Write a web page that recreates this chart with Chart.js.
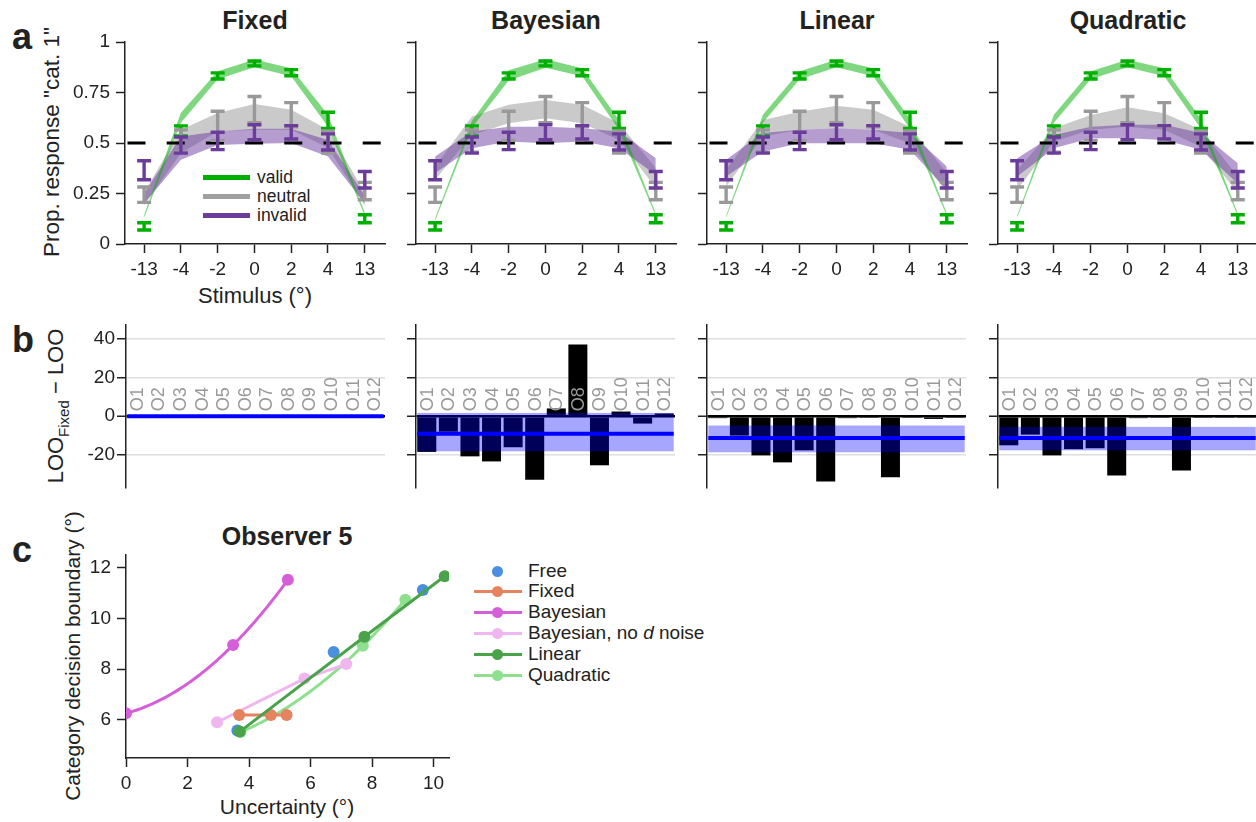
<!DOCTYPE html>
<html><head><meta charset="utf-8">
<script src="https://cdn.jsdelivr.net/npm/chart.js@4.4.1/dist/chart.umd.min.js"></script>
<style>
html,body{margin:0;padding:0;background:#fff}
body{width:1256px;height:822px;position:relative;overflow:hidden;font-family:"Liberation Sans",Arial,Helvetica,sans-serif;color:#222}
canvas{position:absolute}
.t{position:absolute;white-space:nowrap;line-height:1}
.c{transform:translate(-50%,-50%)}
.r{transform:translate(-50%,-50%) rotate(-90deg)}
.b{font-weight:bold}
.ln{position:absolute}
.dot{position:absolute;border-radius:50%}
</style></head><body>
<div class="t b" style="left:12px;top:19px;font-size:36px">a</div>
<div class="t b" style="left:12px;top:322px;font-size:36px">b</div>
<div class="t b" style="left:12px;top:532px;font-size:36px">c</div>

<div class="t b c" style="left:255px;top:20px;font-size:25px">Fixed</div>
<div class="t b c" style="left:546px;top:20px;font-size:25px">Bayesian</div>
<div class="t b c" style="left:837px;top:20px;font-size:25px">Linear</div>
<div class="t b c" style="left:1128px;top:20px;font-size:25px">Quadratic</div>

<div class="t r" style="left:52px;top:142px;font-size:22.5px">Prop. response "cat. 1"</div>
<div class="t c" style="left:255px;top:296px;font-size:22px">Stimulus (°)</div>

<div class="t r" style="left:58px;top:406px;font-size:22px">LOO<sub style="font-size:15px">Fixed</sub> − LOO</div>

<div class="t b c" style="left:287px;top:536px;font-size:25px">Observer 5</div>
<div class="t r" style="left:72px;top:656px;font-size:21px">Category decision boundary (°)</div>
<div class="t c" style="left:287px;top:806px;font-size:21px">Uncertainty (°)</div>

<!-- panel a legend -->
<div class="ln" style="left:203px;top:175px;width:47px;height:4.5px;background:#00b000"></div>
<div class="ln" style="left:203px;top:194px;width:47px;height:4.5px;background:#a0a0a0"></div>
<div class="ln" style="left:203px;top:213px;width:47px;height:4.5px;background:#6a3d9a"></div>
<div class="t" style="left:257px;top:169px;font-size:17.5px">valid</div>
<div class="t" style="left:257px;top:188px;font-size:17.5px">neutral</div>
<div class="t" style="left:257px;top:207px;font-size:17.5px">invalid</div>

<div id="legc"></div>

<script>
// ---------- DATA ----------
const stimLabels = ['-13','-4','-2','0','2','4','13'];
const chanceLevel = 0.5;
const validMean   = [0.087,0.56,0.832,0.894,0.848,0.612,0.125];
const validErr    = [0.018,0.025,0.015,0.012,0.015,0.04,0.02];
const neutralMean = [0.244,0.51,0.585,0.665,0.64,0.505,0.262];
const neutralErr  = [0.038,0.055,0.072,0.065,0.06,0.055,0.043];
const invalidMean = [0.365,0.49,0.51,0.553,0.553,0.505,0.318];
const invalidErr  = [0.047,0.04,0.043,0.037,0.033,0.04,0.041];

const fixedValidLo   = [0.13,0.60,0.815,0.875,0.83,0.58,0.14];
const fixedValidHi   = [0.145,0.65,0.855,0.913,0.87,0.64,0.155];
const fixedNeutralLo = [0.19,0.45,0.557,0.565,0.565,0.476,0.19];
const fixedNeutralHi = [0.255,0.565,0.648,0.693,0.664,0.565,0.255];
const fixedInvalidLo = [0.20,0.417,0.49,0.496,0.5,0.433,0.20];
const fixedInvalidHi = [0.25,0.532,0.557,0.57,0.57,0.515,0.24];

const bayesValidLo   = [0.115,0.575,0.81,0.873,0.83,0.565,0.14];
const bayesValidHi   = [0.128,0.61,0.86,0.915,0.87,0.614,0.152];
const bayesNeutralLo = [0.318,0.54,0.598,0.623,0.598,0.515,0.277];
const bayesNeutralHi = [0.384,0.631,0.689,0.713,0.689,0.598,0.376];
const bayesInvalidLo = [0.351,0.474,0.507,0.499,0.507,0.474,0.343];
const bayesInvalidHi = [0.433,0.557,0.581,0.581,0.573,0.557,0.425];

const linValidLo   = [0.13,0.60,0.815,0.875,0.83,0.57,0.14];
const linValidHi   = [0.14,0.64,0.855,0.912,0.87,0.62,0.152];
const linNeutralLo = [0.285,0.532,0.565,0.573,0.565,0.499,0.252];
const linNeutralHi = [0.367,0.614,0.655,0.684,0.664,0.581,0.351];
const linInvalidLo = [0.334,0.458,0.499,0.499,0.499,0.466,0.268];
const linInvalidHi = [0.417,0.549,0.565,0.573,0.565,0.549,0.384];

const quadValidLo   = [0.13,0.60,0.815,0.875,0.83,0.57,0.14];
const quadValidHi   = [0.14,0.64,0.855,0.912,0.87,0.62,0.152];
const quadNeutralLo = [0.269,0.507,0.565,0.581,0.565,0.482,0.252];
const quadNeutralHi = [0.367,0.573,0.639,0.677,0.647,0.565,0.334];
const quadInvalidLo = [0.334,0.474,0.524,0.524,0.515,0.466,0.3];
const quadInvalidHi = [0.425,0.54,0.581,0.59,0.59,0.549,0.4];

const observerLabels = ['O1','O2','O3','O4','O5','O6','O7','O8','O9','O10','O11','O12'];
const fixedDiff = [0,0,0,0,0,0,0,0,0,0,0,0];
const bayesDiff = [-18.4,-8,-20.7,-23.3,-16,-32.8,4,37,-25.3,2.4,-3.8,1.4];
const linDiff   = [-1,-10,-20.2,-23.8,-17.6,-33.6,-1,-0.4,-31.5,-0.4,-1.4,-0.4];
const quadDiff  = [-15,-9.5,-20.2,-17,-16.5,-30.5,-1,-0.4,-28,-0.4,-0.4,-0.4];
// mean, lower, upper of the summary band
const fixedSummary = [0,0,0];
const bayesSummary = [-9,-18.1,1.7];
const linSummary   = [-11.2,-18.6,-4.8];
const quadSummary  = [-11.2,-17.6,-5.5];

const freeX = [3.62,6.75,9.65],  freeY = [5.58,8.68,11.12];
const fixX  = [3.68,4.71,5.22],  fixY  = [6.19,6.19,6.19];
const bayX  = [0,3.48,5.26],     bayY  = [6.26,8.95,11.52];
const bndX  = [2.96,5.8,7.16],   bndY  = [5.91,7.63,8.2];
const linX  = [3.7,7.75,10.36],  linY  = [5.54,9.28,11.66];
const quadX = [3.72,7.7,9.08],   quadY = [5.52,8.92,10.74];

// ---------- SETUP ----------
Chart.defaults.font.family = "'Liberation Sans', Arial, Helvetica, sans-serif";
Chart.defaults.color = '#222';
Chart.defaults.animation = false;
Chart.defaults.responsive = false;
Chart.defaults.plugins.legend.display = false;
Chart.defaults.plugins.tooltip.enabled = false;
const AX = '#222';
const PT = 22; // top padding of every canvas (room for tick labels)

function makeCanvas(plotL, plotT, plotW, plotH, axL, axB, padR, padT){
  const c = document.createElement('canvas');
  c.width = axL + plotW + padR; c.height = padT + plotH + axB;
  c.style.left = (plotL - axL) + 'px'; c.style.top = (plotT - padT) + 'px';
  c.style.width = c.width + 'px'; c.style.height = c.height + 'px';
  document.body.appendChild(c);
  return c;
}
function axisStyle(extra){
  return Object.assign({
    border:{display:true,color:AX,width:1.5},
    grid:{display:true,drawOnChartArea:false,drawTicks:true,tickLength:9,tickColor:AX,tickWidth:1.5,color:AX}
  }, extra);
}
const xy = (arr) => arr.map((v,i)=>({x:i,y:v}));
const pts = (xs,ys) => xs.map((v,i)=>({x:v,y:ys[i]}));

// ---------- PANEL A ----------
const bandSets = [
  [fixedValidLo,fixedValidHi,fixedNeutralLo,fixedNeutralHi,fixedInvalidLo,fixedInvalidHi],
  [bayesValidLo,bayesValidHi,bayesNeutralLo,bayesNeutralHi,bayesInvalidLo,bayesInvalidHi],
  [linValidLo,linValidHi,linNeutralLo,linNeutralHi,linInvalidLo,linInvalidHi],
  [quadValidLo,quadValidHi,quadNeutralLo,quadNeutralHi,quadInvalidLo,quadInvalidHi]
];
const errPlugin = {
  id:'errbars',
  afterDatasetsDraw(chart){
    const {ctx, scales:{x,y}, chartArea} = chart;
    ctx.save();
    const yc = y.getPixelForValue(chanceLevel);
    ctx.beginPath(); ctx.setLineDash([18,21.2]); ctx.lineWidth = 3; ctx.strokeStyle = '#000';
    ctx.moveTo(chartArea.left + 2.5, yc); ctx.lineTo(chartArea.right, yc); ctx.stroke();
    ctx.setLineDash([]);
    [[validMean,validErr,'#00b000'],[neutralMean,neutralErr,'#999999'],[invalidMean,invalidErr,'#6a3d9a']].forEach(([m,e,col])=>{
      ctx.strokeStyle = col; ctx.lineWidth = 3.4; ctx.lineCap = 'butt';
      m.forEach((v,i)=>{
        const px = x.getPixelForValue(i), y1 = y.getPixelForValue(v+e[i]), y2 = y.getPixelForValue(v-e[i]);
        ctx.beginPath();
        ctx.moveTo(px,y1); ctx.lineTo(px,y2);
        ctx.moveTo(px-7,y1); ctx.lineTo(px+7,y1);
        ctx.moveTo(px-7,y2); ctx.lineTo(px+7,y2);
        ctx.stroke();
      });
    });
    ctx.restore();
  }
};
function panelA(mi, plotL){
  const c = makeCanvas(plotL, 42, 260, 202, 70, 45, 12, PT);
  const b = bandSets[mi];
  const ds = [];
  [[2,3,'rgba(150,150,150,0.5)'],[4,2,'rgba(110,60,160,0.5)'],[0,1,'rgba(0,178,0,0.5)']].forEach(([k,o,col])=>{
    ds.push({data:xy(b[k+1]), fill:'+1', backgroundColor:col, borderColor:'rgba(0,0,0,0)', borderWidth:0, pointRadius:0, order:o, tension:0});
    ds.push({data:xy(b[k]), fill:false, borderColor:'rgba(0,0,0,0)', borderWidth:0, pointRadius:0, order:o, tension:0});
  });
  new Chart(c, {
    type:'line',
    data:{datasets:ds},
    options:{
      layout:{padding:{left:0,right:12,top:PT,bottom:0}},
      scales:{
        x: axisStyle({type:'linear', min:-0.52, max:6.55,
          afterBuildTicks:s=>{ s.ticks = stimLabels.map((_,i)=>({value:i})); },
          ticks:{callback:v=>stimLabels[v], font:{size:19}, color:'#222', padding:5, maxRotation:0, autoSkip:false},
          afterFit:s=>{ s.height = 45; }}),
        y: axisStyle({type:'linear', min:0, max:1,
          afterBuildTicks:s=>{ s.ticks = [0,0.25,0.5,0.75,1].map(v=>({value:v})); },
          ticks:{display: mi===0, callback:v=>String(v), font:{size:19}, color:'#222', padding:6},
          afterFit:s=>{ s.width = 70; }})
      }
    },
    plugins:[errPlugin]
  });
}
[125,416,707,998].forEach((L,i)=>panelA(i,L));

// ---------- PANEL B ----------
const diffSets = [fixedDiff,bayesDiff,linDiff,quadDiff];
const summarySets = [fixedSummary,bayesSummary,linSummary,quadSummary];
function panelB(mi, plotL){
  const c = makeCanvas(plotL, 325, 259, 163, 70, PT, 4, PT);
  const summ = summarySets[mi];
  const bandPlugin = {
    id:'band'+mi,
    afterDatasetsDraw(chart){
      const {ctx, scales:{x,y}} = chart;
      const bars = chart.getDatasetMeta(0).data;
      const L = bars[0].x - bars[0].width/2, R = bars[bars.length-1].x + bars[bars.length-1].width/2;
      ctx.save();
      const yHi = y.getPixelForValue(summ[2]), yLo = y.getPixelForValue(summ[1]);
      ctx.fillStyle = 'rgba(0,0,255,0.35)';
      ctx.fillRect(L, yHi, R-L, yLo-yHi);
      ctx.strokeStyle = '#0000ff'; ctx.lineWidth = 4;
      ctx.beginPath(); const ym = y.getPixelForValue(summ[0]);
      ctx.moveTo(L, ym); ctx.lineTo(R, ym); ctx.stroke();
      ctx.fillStyle = '#999999'; ctx.font = "18px 'Liberation Sans', Arial, sans-serif";
      ctx.textAlign = 'left'; ctx.textBaseline = 'middle';
      const y0 = y.getPixelForValue(0);
      observerLabels.forEach((lab,i)=>{
        ctx.save(); ctx.translate(x.getPixelForValue(i), y0 - 5); ctx.rotate(-Math.PI/2);
        ctx.fillText(lab, 0, 1); ctx.restore();
      });
      ctx.restore();
    }
  };
  new Chart(c, {
    type:'bar',
    data:{labels:observerLabels, datasets:[{data:diffSets[mi], backgroundColor:'#000', borderWidth:0, barPercentage:0.88, categoryPercentage:1}]},
    options:{
      layout:{padding:{left:0,right:4,top:PT,bottom:PT}},
      scales:{
        x:{display:false, offset:true},
        y:{type:'linear', min:-37, max:47,
          border:{display:true,color:AX,width:1.5},
          grid:{display:true, drawOnChartArea:true, drawTicks:true, tickLength:9, tickColor:AX, tickWidth:1.5,
            color:ctx=> (ctx.tick && ctx.tick.value===0) ? '#000' : '#dedede',
            lineWidth:ctx=> (ctx.tick && ctx.tick.value===0) ? 2.5 : 1.5},
          afterBuildTicks:s=>{ s.ticks = [-20,0,20,40].map(v=>({value:v})); },
          ticks:{display: mi===0, font:{size:19}, color:'#222', padding:2},
          afterFit:s=>{ s.width = 70; }}
      }
    },
    plugins:[bandPlugin]
  });
}
[126,416,707,998].forEach((L,i)=>panelB(i,L));

// ---------- PANEL C ----------
const cDefs = [
  {name:'Free', xs:freeX, ys:freeY, col:'#4a8fe0', line:false, curve:false, order:1},
  {name:'Fixed', xs:fixX, ys:fixY, col:'#e5825f', line:true, curve:false, order:5},
  {name:'Bayesian', xs:bayX, ys:bayY, col:'#d45fd8', line:true, curve:true, order:4},
  {name:'Bayesian, no <i>d</i> noise', xs:bndX, ys:bndY, col:'#efb6ef', line:true, curve:false, order:6},
  {name:'Linear', xs:linX, ys:linY, col:'#4aa34a', line:true, curve:false, order:0},
  {name:'Quadratic', xs:quadX, ys:quadY, col:'#8ee08e', line:true, curve:true, order:2}
];
// smooth connecting line through the three points (drawn with the chart's scales)
const curvePlugin = {
  id:'curves',
  beforeDatasetsDraw(chart){
    const {ctx, scales:{x,y}} = chart;
    ctx.save(); ctx.lineWidth = 3; ctx.lineJoin = 'round';
    cDefs.forEach(d=>{
      if (!d.curve) return;
      const [x0,x1,x2] = d.xs, [y0,y1,y2] = d.ys;
      const f = t => y0*(t-x1)*(t-x2)/((x0-x1)*(x0-x2)) + y1*(t-x0)*(t-x2)/((x1-x0)*(x1-x2)) + y2*(t-x0)*(t-x1)/((x2-x0)*(x2-x1));
      ctx.strokeStyle = d.col; ctx.beginPath();
      for (let k=0;k<=80;k++){
        const t = x0 + (x2-x0)*k/80;
        const px = x.getPixelForValue(t), py = y.getPixelForValue(f(t));
        if (k) ctx.lineTo(px,py); else ctx.moveTo(px,py);
      }
      ctx.stroke();
    });
    ctx.restore();
  }
};
(function(){
  const c = makeCanvas(126, 555, 323, 203, 70, 60, 14, PT);
  new Chart(c, {
    type:'scatter',
    data:{datasets:cDefs.map(d=>({data:pts(d.xs,d.ys), showLine:d.line && !d.curve, borderColor:d.col, backgroundColor:d.col,
      borderWidth:3, pointRadius:6, pointBorderWidth:0, order:d.order}))},
    options:{
      layout:{padding:{left:0,right:14,top:PT,bottom:0}},
      scales:{
        x: axisStyle({type:'linear', min:0, max:10.5,
          afterBuildTicks:s=>{ s.ticks = [0,2,4,6,8,10].map(v=>({value:v})); },
          ticks:{font:{size:19}, color:'#222', padding:5, maxRotation:0},
          afterFit:s=>{ s.height = 60; }}),
        y: axisStyle({type:'linear', min:4.5, max:12.5,
          afterBuildTicks:s=>{ s.ticks = [6,8,10,12].map(v=>({value:v})); },
          ticks:{font:{size:19}, color:'#222', padding:6},
          afterFit:s=>{ s.width = 70; }})
      }
    },
    plugins:[curvePlugin]
  });
  // legend
  const rows = [571,591,612,633,654,675];
  const lg = document.getElementById('legc');
  cDefs.forEach((d,i)=>{
    const y = rows[i];
    if (d.line) lg.insertAdjacentHTML('beforeend', `<div class="ln" style="left:474px;top:${y-1.5}px;width:48px;height:3px;background:${d.col}"></div>`);
    lg.insertAdjacentHTML('beforeend', `<div class="dot" style="left:${497-5.5}px;top:${y-5.5}px;width:11px;height:11px;background:${d.col}"></div>`);
    lg.insertAdjacentHTML('beforeend', `<div class="t" style="left:528px;top:${y-10}px;font-size:19px">${d.name}</div>`);
  });
})();
</script>
</body></html>
